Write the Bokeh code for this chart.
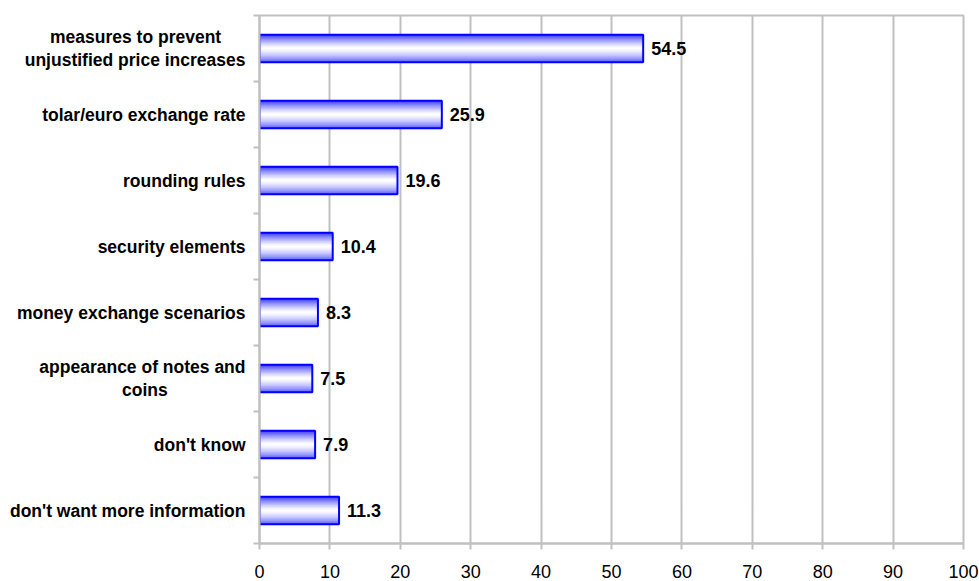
import numpy as np
from bokeh.plotting import figure
from bokeh.models import Range1d, FixedTicker, LinearAxis, ColumnDataSource
from bokeh.core.properties import value
from bokeh.embed import file_html
from bokeh.resources import INLINE

# Survey answers: which information about the euro changeover is wanted (%)
categories = [
    "measures to prevent\nunjustified price increases",
    "tolar/euro exchange rate",
    "rounding rules",
    "security elements",
    "money exchange scenarios",
    "appearance of notes and\ncoins",
    "don't know",
    "don't want more information",
]
values = [54.5, 25.9, 19.6, 10.4, 8.3, 7.5, 7.9, 11.3]
value_labels = ["54.5", "25.9", "19.6", "10.4", "8.3", "7.5", "7.9", "11.3"]
x_ticks = [0, 10, 20, 30, 40, 50, 60, 70, 80, 90, 100]

FONT = "Liberation Sans"
GRID = "#c0c0c0"
BAR_H = 0.42
N_ROWS = 64
NBSP = "\u00a0"

# Arial/Liberation Sans Bold advance widths (1/1000 em) for wrapped labels
BOLD_W = {" ": 278, "a": 556, "c": 556, "d": 611, "e": 556, "f": 333, "i": 278,
          "j": 278, "m": 889, "n": 611, "o": 611, "p": 611, "r": 389, "s": 556,
          "t": 333, "u": 611, "v": 556}


def em_width(s):
    return sum(BOLD_W.get(ch, 556) for ch in s)


def centre_lines(label):
    # pad shorter lines so they sit centred under the longest, right-aligned one
    lines = label.split("\n")
    wmax = max(em_width(s) for s in lines)
    out = []
    for s in lines:
        pad = int(round((wmax - em_width(s)) / 2 / BOLD_W[" "]))
        out.append(s + NBSP * pad)
    return "\n".join(out)


n = len(categories)
# first category at the top
centers = [n - i - 0.5 for i in range(n)]

p = figure(
    width=979, height=581,
    x_range=Range1d(0, 100), y_range=Range1d(0, n),
    output_backend="svg", toolbar_location=None,
    x_axis_location=None, y_axis_location=None,
    min_border_left=259, min_border_right=16,
    min_border_top=15, min_border_bottom=38,
)
p.background_fill_color = "white"
p.border_fill_color = "white"
p.outline_line_color = GRID
p.outline_line_width = 2

# x axis
xaxis = LinearAxis(ticker=FixedTicker(ticks=x_ticks))
xaxis.axis_line_color = GRID
xaxis.axis_line_width = 2
xaxis.major_tick_line_color = GRID
xaxis.major_tick_line_width = 2
xaxis.major_tick_in = 0
xaxis.major_tick_out = 6
xaxis.minor_tick_line_color = None
xaxis.major_label_text_font = FONT
xaxis.major_label_text_font_size = "18px"
xaxis.major_label_text_color = "black"
xaxis.major_label_standoff = 15
p.add_layout(xaxis, "below")

# y axis: names at category centres, ticks at category boundaries
yaxis = LinearAxis(ticker=FixedTicker(ticks=centers, minor_ticks=list(range(n + 1))))
yaxis.major_label_overrides = {c: centre_lines(lab) for c, lab in zip(centers, categories)}
yaxis.axis_line_color = GRID
yaxis.axis_line_width = 2
yaxis.major_tick_line_color = None
yaxis.major_tick_out = 0
yaxis.major_tick_in = 0
yaxis.minor_tick_line_color = GRID
yaxis.minor_tick_line_width = 2
yaxis.minor_tick_in = 0
yaxis.minor_tick_out = 6
yaxis.major_label_text_font = FONT
yaxis.major_label_text_font_style = "bold"
yaxis.major_label_text_font_size = "17.5px"
yaxis.major_label_text_color = "black"
yaxis.major_label_text_line_height = 1.15
yaxis.major_label_standoff = 8
p.add_layout(yaxis, "left")

p.xgrid.ticker = FixedTicker(ticks=x_ticks)
p.xgrid.grid_line_color = GRID
p.xgrid.grid_line_width = 2
p.ygrid.grid_line_color = None


def shade(t):
    # t = 0 at the bar's top edge, 1 at its bottom: deep blue at the top,
    # white around the middle, a softer blue towards the bottom
    if t < 0.5:
        a = 0.85 * ((0.5 - t) / 0.5) ** 1.3
    else:
        a = 0.65 * ((t - 0.5) / 0.5) ** 1.5
    return int(round(255 * (1 - a)))


# one vertical gradient texture (row 0 = bottom), stretched over every bar
rgba = np.zeros((N_ROWS, 1), dtype=np.uint32)
view = rgba.view(dtype=np.uint8).reshape((N_ROWS, 1, 4))
for row in range(N_ROWS):
    t = 1 - (row + 0.5) / N_ROWS
    r = shade(t)
    view[row, 0] = (r, r, 255, 255)

p.image_rgba(
    image=[rgba] * n,
    x=[0] * n,
    y=[c - BAR_H / 2 for c in centers],
    dw=values,
    dh=[BAR_H] * n,
)

bars = ColumnDataSource(dict(y=centers, right=values, label=value_labels))
p.hbar(y="y", left=0, right="right", height=BAR_H, source=bars,
       fill_color=None, line_color="#0000ff", line_width=2)

p.text(x="right", y="y", text="label", source=bars, x_offset=8,
       text_font=value(FONT), text_font_style="bold", text_font_size="18px",
       text_baseline="middle", text_align="left", text_color="black")

open("out.html", "w").write(file_html(p, INLINE))
